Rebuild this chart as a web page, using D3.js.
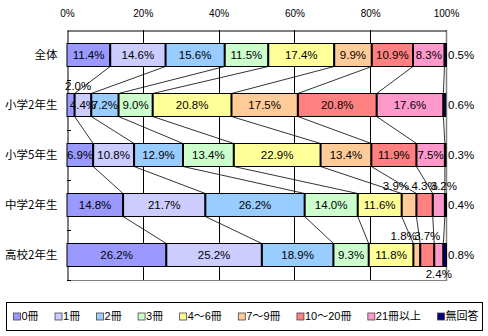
<!DOCTYPE html>
<html><head><meta charset="utf-8">
<script src="https://cdn.jsdelivr.net/npm/d3@7"></script>
<style>
body{margin:0;background:#fff;}
text{font-family:"Liberation Sans",Arial,"Noto Sans CJK JP",sans-serif;}
</style></head>
<body><svg id="c" width="488" height="336"></svg>
<script>
const categories = ["全体","小学2年生","小学5年生","中学2年生","高校2年生"];
const seriesNames = ["0冊","1冊","2冊","3冊","4～6冊","7～9冊","10～20冊","21冊以上","無回答"];
const seriesColors = ["#9999FF","#CCCCFF","#99CCFF","#CCFFCC","#FFFF99","#FFCC99","#FF8080","#FF99CC","#000080"];
const vAll  = [11.4,14.6,15.6,11.5,17.4, 9.9,10.9, 8.3,0.5];
const vE2   = [ 2.0, 4.4, 7.2, 9.0,20.8,17.5,20.8,17.6,0.6];
const vE5   = [ 6.9,10.8,12.9,13.4,22.9,13.4,11.9, 7.5,0.3];
const vJ2   = [14.8,21.7,26.2,14.0,11.6, 3.9, 4.3, 3.2,0.4];
const vH2   = [26.2,25.2,18.9, 9.3,11.8, 1.8, 3.7, 2.4,0.8];
const values = [vAll,vE2,vE5,vJ2,vH2];
const tickValues = [0,20,40,60,80,100];
// label placement: c=centre, r=right of bar, a=above, aL=above ending at segment centre, aR=above starting at segment start, b=below
const labelModes = [
  ["c","c","c","c","c","c","c","c","r"],
  ["aR","c","c","c","c","c","c","c","r"],
  ["c","c","c","c","c","c","c","c","r"],
  ["c","c","c","c","c","aL","a","aR","r"],
  ["c","c","c","c","c","aL","a","b","r"]
];

const svg = d3.select("#c");
const x = d3.scaleLinear().domain([0,100]).range([67,446]);
const y = d3.scaleBand().domain(categories).range([30,280]).paddingInner(0.54).paddingOuter(0.27);
const bh = y.bandwidth();

const rows = categories.map((c,i)=>{
  let acc=0;
  return values[i].map((v,j)=>{const s={cat:c,ci:i,si:j,v:v,x0:acc,x1:acc+v};acc+=v;return s;});
});

// gridlines
svg.append("g").selectAll("line").data([20,40,60,80]).join("line")
  .attr("x1",d=>Math.round(x(d))+0.5).attr("x2",d=>Math.round(x(d))+0.5)
  .attr("y1",30).attr("y2",280).attr("stroke","#000").attr("stroke-width",1);

// plot border
svg.append("line").attr("x1",67).attr("x2",446).attr("y1",280.5).attr("y2",280.5).attr("stroke","#808080");
svg.append("line").attr("x1",446.5).attr("x2",446.5).attr("y1",30).attr("y2",281).attr("stroke","#808080").attr("stroke-width",1.5);

// top axis
const xAxis = d3.axisTop(x).tickValues(tickValues).tickFormat(d=>d+"%").tickSize(0).tickPadding(0);
const gx = svg.append("g").attr("transform","translate(0,30.5)").call(xAxis);
gx.select(".domain").attr("stroke","#000");
gx.selectAll("text").attr("y",-17).attr("dy","0.35em").attr("font-size",10).attr("fill","#000");

// left axis
const yAxis = d3.axisLeft(y).tickSize(0).tickPadding(10);
const gy = svg.append("g").attr("transform","translate(67.5,0)").call(yAxis);
gy.select(".domain").attr("stroke","#000");
gy.selectAll("text").attr("font-size",11.5).attr("fill","#000")
  .style("font-family","'Noto Sans CJK JP','Liberation Sans',sans-serif");
const bounds = categories.slice(1).map(c=>y(c)-(y.step()-bh)/2).concat([280]);
svg.append("g").selectAll("line").data(bounds).join("line")
  .attr("x1",67).attr("x2",71).attr("y1",d=>Math.round(d)+0.5).attr("y2",d=>Math.round(d)+0.5)
  .attr("stroke","#000");

// connector lines
const conn = [];
for(let i=0;i<categories.length-1;i++){
  for(let j=0;j<seriesNames.length-1;j++){
    conn.push({xa:x(rows[i][j].x1), ya:y(categories[i])+bh, xb:x(rows[i+1][j].x1), yb:y(categories[i+1])});
  }
}
svg.append("g").selectAll("line").data(conn).join("line")
  .attr("x1",d=>d.xa).attr("y1",d=>d.ya).attr("x2",d=>d.xb).attr("y2",d=>d.yb)
  .attr("stroke","#000").attr("stroke-width",0.8);

// bars
const bars = svg.append("g");
rows.forEach((r,i)=>{
  const g = bars.append("g");
  g.selectAll("rect").data(r).join("rect")
    .attr("x",d=>x(d.x0)).attr("width",d=>Math.max(0,x(d.x1)-x(d.x0)))
    .attr("y",y(categories[i])).attr("height",bh)
    .attr("fill",d=>seriesColors[d.si]).attr("stroke","#000").attr("stroke-width",1);
  g.selectAll("line").data(r.slice(0,-1)).join("line")
    .attr("x1",d=>x(d.x1)).attr("x2",d=>x(d.x1))
    .attr("y1",y(categories[i])).attr("y2",y(categories[i])+bh)
    .attr("stroke","#000").attr("stroke-width",2);
});

// labels
const lab = svg.append("g").attr("font-size",11.5).attr("fill","#000");
rows.forEach((r,i)=>{
  const top = y(categories[i]);
  r.forEach((d,j)=>{
    const m = labelModes[i][j];
    let lx = x((d.x0+d.x1)/2), ly = top+bh/2, anchor="middle";
    if(m==="r"){lx = 448; anchor="start";}
    else if(m==="a"){ly = top-7.5;}
    else if(m==="aL"){anchor="end"; ly=top-7.5;}
    else if(m==="aR"){lx = x(d.x0)-2; anchor="start"; ly=top-7.5;}
    else if(m==="b"){ly = top+bh+7;}
    lab.append("text").attr("x",lx).attr("y",ly).attr("dy","0.36em")
      .attr("text-anchor",anchor).text(d.v.toFixed(1)+"%");
  });
});

// legend
const lg = svg.append("g");
lg.append("rect").attr("x",6.5).attr("y",302.5).attr("width",476).attr("height",28)
  .attr("fill","#fff").attr("stroke","#000");
const items = lg.selectAll("g.it").data(seriesNames).join("g").attr("class","it");
items.append("rect").attr("width",7).attr("height",7).attr("y",313)
  .attr("fill",(d,i)=>seriesColors[i]).attr("stroke","#444").attr("stroke-width",0.8);
items.append("text").attr("x",8).attr("y",316.5).attr("dy","0.36em").attr("font-size",11)
  .style("font-family","'Liberation Sans','Noto Sans CJK JP',sans-serif").text(d=>d);
const widths = [];
items.each(function(){widths.push(d3.select(this).select("text").node().getComputedTextLength());});
const startX = 13.5, lastX = 437.5;
const used = widths.slice(0,-1).reduce((a,w)=>a+8+w,0);
const gap = (lastX-startX-used)/(seriesNames.length-1);
let cx = startX;
items.each(function(d,i){d3.select(this).attr("transform",`translate(${cx},0)`);cx += 8+widths[i]+gap;});
</script></body></html>
